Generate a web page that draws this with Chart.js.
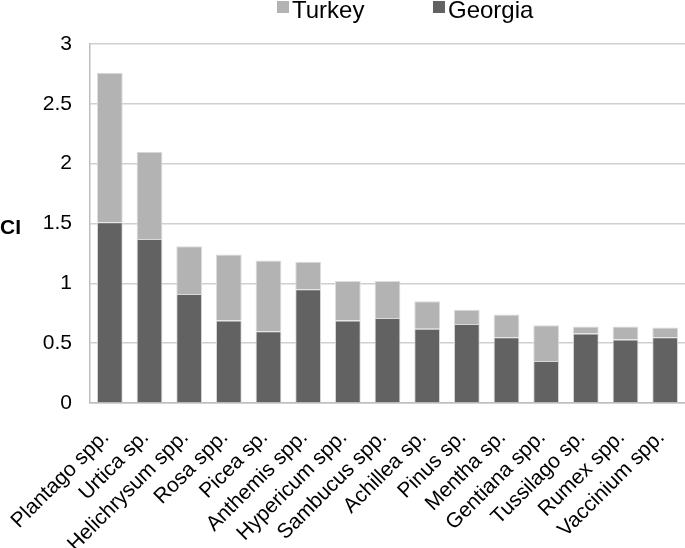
<!DOCTYPE html>
<html>
<head>
<meta charset="utf-8">
<script src="https://cdn.jsdelivr.net/npm/chart.js@4/dist/chart.umd.min.js"></script>
<style>
  html, body { margin: 0; padding: 0; background: #ffffff; }
  #wrap { width: 685px; height: 548px; position: relative; }
</style>
</head>
<body>
<div id="wrap"><canvas id="c" width="685" height="548"></canvas></div>
<script>
const categories = ['Plantago spp.', 'Urtica sp.', 'Helichrysum spp.', 'Rosa spp.', 'Picea sp.', 'Anthemis spp.', 'Hypericum spp.', 'Sambucus spp.', 'Achillea sp.', 'Pinus sp.', 'Mentha sp.', 'Gentiana spp.', 'Tussilago sp.', 'Rumex spp.', 'Vaccinium spp.'];
const georgia = [1.51, 1.37, 0.91, 0.69, 0.60, 0.95, 0.69, 0.71, 0.62, 0.66, 0.55, 0.35, 0.58, 0.53, 0.55];
const turkey  = [1.25, 0.73, 0.40, 0.55, 0.59, 0.23, 0.33, 0.31, 0.23, 0.12, 0.19, 0.30, 0.06, 0.11, 0.08];
const yTicks = [0, 0.5, 1, 1.5, 2, 2.5, 3];
const yTickLabels = ['0', '0.5', '1', '1.5', '2', '2.5', '3'];
const yTitle = 'CI';
const legendOrder = ['Turkey', 'Georgia'];

const FONT = "'Liberation Sans', Arial, sans-serif";

const customLegend = {
  id: 'customLegend',
  afterDraw(chart) {
    const ctx = chart.ctx;
    ctx.save();
    ctx.font = '24px ' + FONT;
    ctx.textBaseline = 'alphabetic';
    ctx.textAlign = 'left';
    const starts = [277, 433];
    legendOrder.forEach((name, i) => {
      const ds = chart.data.datasets.find(d => d.label === name);
      ctx.fillStyle = ds.backgroundColor;
      ctx.fillRect(starts[i], 1, 12, 12);
      ctx.fillStyle = '#000000';
      ctx.fillText(name, starts[i] + 15, 18);
    });
    ctx.restore();
  }
};

const yTitlePlugin = {
  id: 'yTitlePlugin',
  afterDraw(chart) {
    const ctx = chart.ctx;
    const a = chart.chartArea;
    ctx.save();
    ctx.font = 'bold 21px ' + FONT;
    ctx.fillStyle = '#000000';
    ctx.textAlign = 'left';
    ctx.textBaseline = 'middle';
    ctx.fillText(yTitle, 0, (a.top + a.bottom) / 2 + 5);
    ctx.restore();
  }
};

new Chart(document.getElementById('c'), {
  type: 'bar',
  data: {
    labels: categories,
    datasets: [
      { label: 'Georgia', data: georgia, backgroundColor: '#626262', borderColor: '#d8d8d8', borderWidth: 1, borderSkipped: 'bottom' },
      { label: 'Turkey', data: turkey, backgroundColor: '#b3b3b3', borderColor: '#dcdcdc', borderWidth: 1, borderSkipped: 'bottom' }
    ]
  },
  options: {
    responsive: false,
    animation: false,
    devicePixelRatio: 1,
    layout: { padding: { top: 44, left: 0, right: 0, bottom: 0 } },
    datasets: { bar: { barPercentage: 0.65, categoryPercentage: 1.0 } },
    plugins: {
      legend: { display: false },
      tooltip: { enabled: false },
      title: { display: false }
    },
    scales: {
      x: {
        stacked: true,
        grid: { display: false, drawTicks: false },
        border: { display: true, color: '#bdbdbd', width: 1.5 },
        ticks: {
          color: '#000000',
          font: { family: FONT, size: 21 },
          minRotation: 45,
          maxRotation: 45,
          padding: 22,
          labelOffset: -4,
          autoSkip: false
        },
        afterFit(scale) { scale.height = 145; scale.paddingLeft = 0; scale.paddingRight = 0; }
      },
      y: {
        stacked: true,
        min: 0,
        max: 3,
        afterBuildTicks(scale) { scale.ticks = yTicks.map(v => ({ value: v })); },
        grid: { color: '#cfcfcf', lineWidth: 1.5, drawTicks: false },
        border: { display: true, color: '#bdbdbd', width: 1.5 },
        ticks: {
          color: '#000000',
          font: { family: FONT, size: 21 },
          padding: 18,
          callback(value, index) { return yTickLabels[index]; }
        },
        afterFit(scale) { scale.width = 90; }
      }
    }
  },
  plugins: [customLegend, yTitlePlugin]
});
</script>
</body>
</html>
